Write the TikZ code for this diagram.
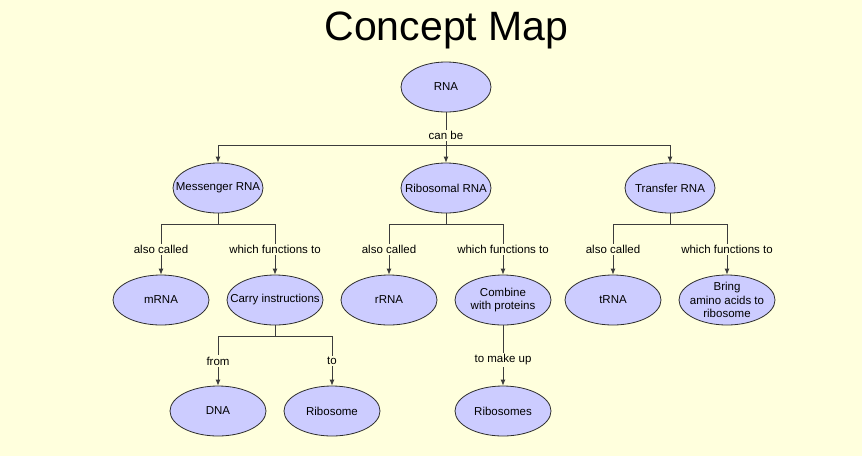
\documentclass[tikz,border=0pt]{standalone}
\usepackage{fontspec}
\setmainfont{Liberation Sans}
\usepackage{xcolor}
\usepackage{tikz}
\usetikzlibrary{shapes.geometric, arrows.meta, positioning}
\definecolor{CM_BG}{HTML}{FFFFDD}
\definecolor{CM_FILL}{HTML}{CCCCFF}
\definecolor{CM_EDGE}{HTML}{2E2E2E}
\definecolor{CM_LINE}{HTML}{3C3C3C}
\tikzset{
  concept/.style={
    ellipse, minimum width=96pt, minimum height=50pt,
    inner xsep=-12pt, inner ysep=-1pt,
    text centered, align=center,
    draw=CM_EDGE, line width=0.8pt, fill=CM_FILL,
    font=\fontsize{11.5}{13.5}\selectfont},
  topic/.style={concept, minimum width=90pt},
  link/.style={line width=0.8pt, color=CM_LINE},
  arr/.style={link, -{Latex[length=6pt,width=5pt]}},
  lbl/.style={fill=CM_BG, inner sep=1.5pt, text=black,
    font=\fontsize{11.5}{13}\selectfont},
  heading/.style={inner sep=0pt, font=\fontsize{41}{46}\selectfont},
}
\begin{document}
\begin{tikzpicture}[node distance=112pt and 57pt, on grid]

  % background and frame
  \fill[CM_BG] (0pt,0pt) rectangle (862pt,-456pt);
  \useasboundingbox (0pt,0pt) rectangle (862pt,-456pt);

  \node[heading, anchor=base] (title) at (446.5pt,-40pt) {Concept Map};

  \node[topic] (rna) at (446pt,-87pt) {RNA};

  % second row
  \node[topic, below=101pt of rna] (ribosomal) {Ribosomal RNA};
  \node[topic, left=228pt of ribosomal] (messenger) {Messenger RNA};
  \node[topic, right=224pt of ribosomal] (transfer) {Transfer RNA};

  % Messenger branch – LEFT
  \node[concept, below left=of messenger] (mrna) {mRNA};
  \node[concept, below right=of messenger] (carry) {Carry instructions};
  \node[concept, below left=111pt and 57pt of carry] (dna) {DNA};
  \node[concept, below right=111pt and 57pt of carry] (ribosome) {Ribosome};

  % Ribosomal branch – MIDDLE
  \node[concept, below left=of ribosomal] (rrna) {rRNA};
  \node[concept, below right=of ribosomal] (combine) {Combine\\with proteins};
  \node[concept, below=111pt of combine] (ribosomes) {Ribosomes};

  % Transfer branch – RIGHT
  \node[concept, below left=of transfer] (trna) {tRNA};
  \node[concept, below right=of transfer] (bring)
    {Bring\\amino acids to\\ribosome};

  % junctions
  \coordinate[below=33pt of rna.south] (rnaJ);
  \coordinate[below=11pt of messenger.south] (messengerJ);
  \coordinate[below=11pt of ribosomal.south] (ribosomalJ);
  \coordinate[below=11pt of transfer.south] (transferJ);
  \coordinate[below=11pt of carry.south] (carryJ);

  \draw[link] (rna) -- node[lbl, pos=0.7]{can be} (rnaJ);
  \draw[arr] (rnaJ) -| (messenger);
  \draw[arr] (rnaJ) -- (ribosomal);
  \draw[arr] (rnaJ) -| (transfer);

  \draw[link] (messenger) -- (messengerJ);
  \draw[arr] (messengerJ) -| node[lbl, pos=0.75]{also called} (mrna);
  \draw[arr] (messengerJ) -| node[lbl, pos=0.75]{which functions to} (carry);

  \draw[link] (ribosomal) -- (ribosomalJ);
  \draw[arr] (ribosomalJ) -| node[lbl, pos=0.75]{also called} (rrna);
  \draw[arr] (ribosomalJ) -| node[lbl, pos=0.75]{which functions to} (combine);

  \draw[link] (transfer) -- (transferJ);
  \draw[arr] (transferJ) -| node[lbl, pos=0.75]{also called} (trna);
  \draw[arr] (transferJ) -| node[lbl, pos=0.75]{which functions to} (bring);

  \draw[link] (carry) -- (carryJ);
  \draw[arr] (carryJ) -| node[lbl, pos=0.75]{from} (dna);
  \draw[arr] (carryJ) -| node[lbl, pos=0.75]{to} (ribosome);

  \draw[arr] (combine) -- node[lbl, pos=0.57]{to make up} (ribosomes);

\end{tikzpicture}
\end{document}
